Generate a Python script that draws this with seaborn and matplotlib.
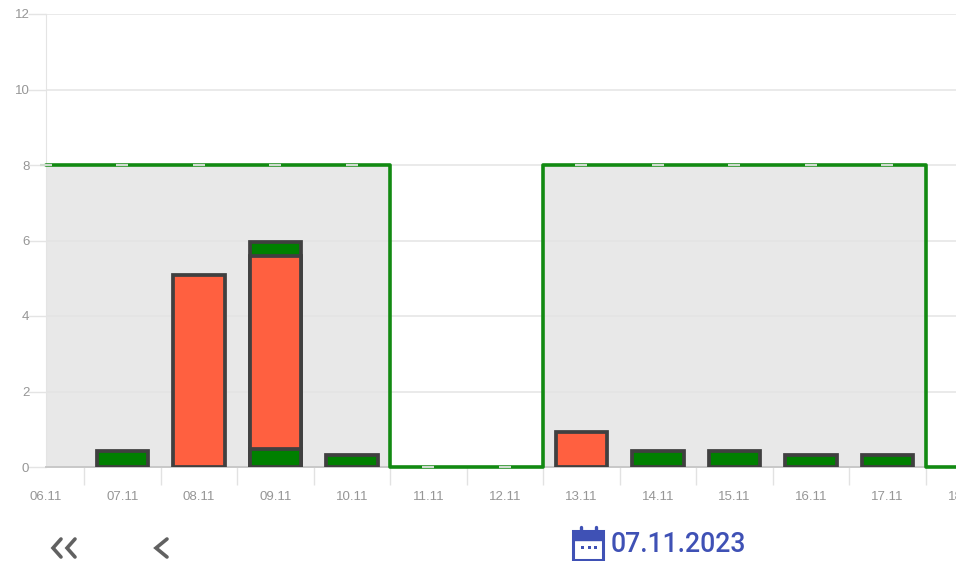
import matplotlib
matplotlib.use('Agg')
import matplotlib.pyplot as plt
from matplotlib.lines import Line2D
from matplotlib.patches import Rectangle
import seaborn as sns
import numpy as np

nan = np.nan

days = ['06.11', '07.11', '08.11', '09.11', '10.11', '11.11', '12.11',
        '13.11', '14.11', '15.11', '16.11', '17.11', '18.11']
plan = [8, 8, 8, 8, 8, 0, 0, 8, 8, 8, 8, 8, 0]

# bars are drawn back to front, so these are running totals
top_green = [nan, nan, nan, 5.97, nan, nan, nan, nan, nan, nan, nan, nan, nan]
red = [nan, nan, 5.08, 5.58, nan, nan, nan, 0.93, nan, nan, nan, nan, nan]
low_green = [nan, 0.42, nan, 0.48, 0.33, nan, nan, nan, 0.42, 0.42, 0.32, 0.32, nan]

yticks = [0, 2, 4, 6, 8, 10, 12]

W, H = 956, 561
X0, Y0, YTOP = 46, 467, 14
STEP = 76.5
XMAX = 12.5

sns.set_style('white')
plt.rcParams['font.family'] = ['Liberation Sans', 'DejaVu Sans']

fig = plt.figure(figsize=(W / 100, H / 100), dpi=100)
ax = fig.add_axes([X0 / W, (H - Y0) / H, XMAX * STEP / W, (Y0 - YTOP) / H])

x = np.arange(len(days))
ax.fill_between(x, plan, step='mid', color='#e8e8e8', lw=0, zorder=0)

for vals, col in [(top_green, '#008000'), (red, '#ff6040'), (low_green, '#008000')]:
    sns.barplot(x=days, y=vals, order=days, color=col, saturation=1, width=0.675,
                edgecolor='#404040', linewidth=2.7, ax=ax, zorder=3)

sns.lineplot(x=x, y=plan, ax=ax, color='#128a12', lw=2.6, drawstyle='steps-mid',
             estimator=None, marker='_', ms=8, mew=1.6, mec='#d0dcd0',
             clip_on=False, zorder=4)

ax.set_xlim(0, XMAX)
ax.set_ylim(0, 12)
ax.set_yticks(yticks)
ax.set_xticks(x)
ax.set_xticklabels(days)
ax.set_xticks(x[:-1] + 0.5, minor=True)
ax.set_xlabel('')
ax.set_ylabel('')

ax.grid(axis='y', color='#e4e4e4', lw=1.1, zorder=1)
ax.set_axisbelow(True)
ax.tick_params(axis='x', which='major', length=0, pad=17, labelsize=9.5, labelcolor='#969696')
ax.tick_params(axis='x', which='minor', bottom=True, length=13, width=1, color='#e2e2e2')
ax.tick_params(axis='y', left=True, length=13, width=1, color='#e4e4e4', pad=-1, labelsize=9.5,
               labelcolor='#969696')
sns.despine(ax=ax, top=True, right=True)
ax.spines['left'].set_color('#e4e4e4')
ax.spines['bottom'].set_color('#c8c8c8')
ax.spines['bottom'].set_linewidth(1.4)


def px_line(xs, ys, col='#616161', lw=2.6):
    fig.add_artist(Line2D(np.array(xs) / W, 1 - np.array(ys) / H, color=col, lw=lw,
                          solid_capstyle='round', solid_joinstyle='miter'))


# navigation arrows under the chart
px_line([61, 53, 61], [539, 548, 557])
px_line([75, 67, 75], [539, 548, 557])
px_line([167, 156, 167], [539, 548, 557])

# calendar icon and selected date
BLUE = '#3f51b5'
fig.add_artist(Rectangle((573 / W, 1 - 560 / H), 30 / W, 29 / H, fc='white', ec=BLUE, lw=2.2))
fig.add_artist(Rectangle((573 / W, 1 - 540 / H), 30 / W, 9 / H, fc=BLUE, ec=BLUE, lw=1))
px_line([581, 581], [527, 532], BLUE, 2.4)
px_line([596, 596], [527, 532], BLUE, 2.4)
for px in [581, 587.5, 594]:
    fig.add_artist(Rectangle((px / W, 1 - 549 / H), 3 / W, 3 / H, fc=BLUE, lw=0))
fig.text(611 / W, 1 - 544 / H, '07.11.2023', family=['Roboto', 'DejaVu Sans'], fontsize=19.2,
         fontweight=500, color=BLUE, va='center', ha='left')

fig.savefig('out.png', dpi=100)
